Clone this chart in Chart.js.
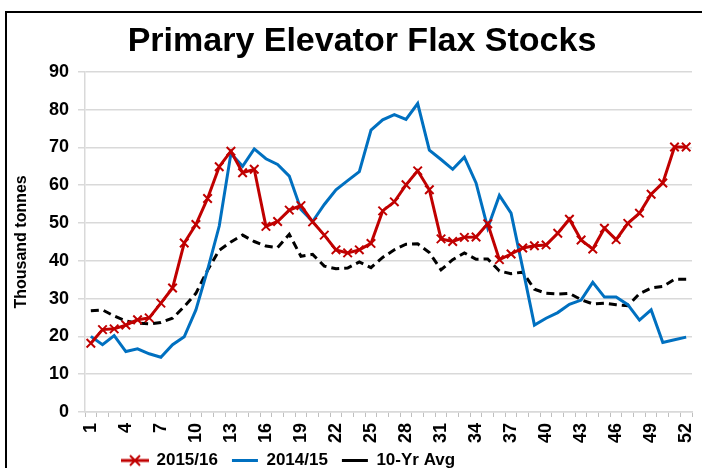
<!DOCTYPE html>
<html>
<head>
<meta charset="utf-8">
<title>Primary Elevator Flax Stocks</title>
<script src="https://cdn.jsdelivr.net/npm/chart.js@4.4.1/dist/chart.umd.min.js"></script>
<style>
    html, body { margin: 0; padding: 0; background: #fff; overflow: hidden; }
    #wrap { position: relative; width: 702px; height: 468px; overflow: hidden; }
    #frame { position: absolute; left: 5px; top: 11px; width: 720px; height: 520px; border: 2px solid #000; }
    #chart { position: absolute; left: 0; top: 0; }
</style>
</head>
<body>
<div id="wrap">
    <div id="frame"></div>
    <canvas id="chart" width="702" height="501"></canvas>
</div>
<script>
// -------------------------------------------------------------------------- Data

const weeks = [
    '1', '2', '3', '4', '5', '6', '7', '8', '9', '10', '11', '12', '13',
    '14', '15', '16', '17', '18', '19', '20', '21', '22', '23', '24', '25', '26',
    '27', '28', '29', '30', '31', '32', '33', '34', '35', '36', '37', '38', '39',
    '40', '41', '42', '43', '44', '45', '46', '47', '48', '49', '50', '51', '52'
]

const stocks2015 = [
    18.2, 21.8, 22.0, 23.0, 24.4, 24.9, 28.8, 32.8, 44.7, 49.6, 56.5, 64.9, 69.0,
    63.3, 64.2, 49.1, 50.4, 53.4, 54.6, 50.3, 46.8, 42.9, 42.1, 42.9, 44.6, 53.2,
    55.6, 60.1, 63.8, 58.8, 45.8, 45.1, 46.2, 46.3, 49.8, 40.3, 41.8, 43.4, 44.0,
    44.2, 47.3, 51.0, 45.5, 43.1, 48.6, 45.6, 49.9, 52.6, 57.6, 60.6, 70.1, 70.1
]

const stocks2014 = [
    20.0, 17.8, 20.2, 16.0, 16.7, 15.4, 14.5, 17.8, 19.9, 27.0, 37.6, 49.2, 68.4,
    65.0, 69.6, 67.0, 65.5, 62.4, 53.6, 50.4, 54.9, 58.8, 61.2, 63.6, 74.6, 77.3,
    78.7, 77.4, 81.6, 69.3, 66.8, 64.2, 67.4, 60.6, 48.7, 57.3, 52.6, 38.0, 23.0,
    24.8, 26.3, 28.5, 29.6, 34.3, 30.4, 30.4, 28.4, 24.3, 27.0, 18.4, 19.1, 19.8
]

const tenYrAvg = [
    26.8, 27.0, 25.4, 24.1, 23.5, 23.3, 23.7, 24.8, 27.9, 31.4, 37.5, 42.8, 45.0,
    46.8, 45.1, 43.9, 43.5, 47.0, 41.2, 41.7, 38.6, 37.9, 38.1, 39.7, 38.2, 40.9,
    42.9, 44.4, 44.5, 42.2, 37.6, 40.3, 42.1, 40.4, 40.5, 37.3, 36.6, 37.0, 32.5,
    31.4, 31.2, 31.4, 29.7, 28.6, 28.8, 28.4, 28.1, 31.3, 32.8, 33.2, 35.1, 35.1
]

const seriesNames = ['2015/16', '2014/15', '10-Yr Avg']

// -------------------------------------------------------------------------- Colours

let red = '#C00000'
let blue = '#0070C0'
let black = '#000000'
let grid = '#d9d9d9'

Chart.defaults.font.family = "'Liberation Sans', Arial, sans-serif"
Chart.defaults.color = '#000'

// legend icon for the red series: line with an x on it
function makeRedIcon() {
    const c = document.createElement('canvas')
    c.width = 28
    c.height = 14
    const g = c.getContext('2d')
    g.strokeStyle = red
    g.lineWidth = 3
    g.beginPath()
    g.moveTo(0, 7)
    g.lineTo(28, 7)
    g.stroke()
    g.lineWidth = 2
    g.beginPath()
    g.moveTo(9, 2)
    g.lineTo(19, 12)
    g.moveTo(19, 2)
    g.lineTo(9, 12)
    g.stroke()
    return c
}
const redIcon = makeRedIcon()

// move title and legend to where the original has them
const boxShift = {
    id: 'boxShift',
    beforeDraw(chart) {
        chart.titleBlock.left = 22
        chart.titleBlock.right = 702
        chart.legend.left = 108
        chart.legend.top = 438
    }
}

// -------------------------------------------------------------------------- Chart Config

const dataFlax = {
    labels: weeks,
    datasets: [{
        label: seriesNames[0],
        data: stocks2015,
        borderColor: red,
        backgroundColor: red,
        borderWidth: 3,
        pointStyle: 'crossRot',
        pointRadius: 6,
        pointBorderWidth: 2,
        pointBorderColor: red,
        tension: 0
    }, {
        label: seriesNames[1],
        data: stocks2014,
        borderColor: blue,
        backgroundColor: blue,
        borderWidth: 3,
        pointRadius: 0,
        tension: 0
    }, {
        label: seriesNames[2],
        data: tenYrAvg,
        borderColor: black,
        backgroundColor: black,
        borderWidth: 3,
        borderDash: [8, 5],
        pointRadius: 0,
        tension: 0
    }]
}

const configFlax = {
    type: 'line',
    data: dataFlax,
    options: {
        responsive: false,
        animation: false,
        events: [],
        layout: {
            padding: { left: 0, right: 10, top: 0, bottom: 0 }
        },
        plugins: {
            title: {
                display: true,
                text: 'Primary Elevator Flax Stocks',
                color: '#000',
                font: { size: 34, weight: 'bold' },
                padding: { top: 21, bottom: 10 }
            },
            legend: {
                position: 'bottom',
                align: 'start',
                labels: {
                    usePointStyle: true,
                    pointStyleWidth: 26,
                    padding: 14,
                    color: '#000',
                    font: { size: 17, weight: 'bold' },
                    generateLabels(chart) {
                        const items = Chart.defaults.plugins.legend.labels.generateLabels(chart)
                        items.forEach((it, i) => {
                            it.pointStyle = i === 0 ? redIcon : 'line'
                        })
                        return items
                    }
                }
            },
            tooltip: { enabled: false }
        },
        scales: {
            x: {
                offset: true,
                ticks: {
                    autoSkip: false,
                    maxRotation: 90,
                    minRotation: 90,
                    padding: 6,
                    color: '#000',
                    font: { size: 18, weight: 'bold' },
                    callback(value, index) {
                        return index % 3 === 0 ? this.getLabelForValue(value) : ''
                    }
                },
                grid: {
                    offset: true,
                    drawOnChartArea: false,
                    tickLength: 5,
                    color: '#bfbfbf',
                    lineWidth: 1
                },
                border: { color: grid, width: 1.5 },
                afterFit(scale) {
                    scale.height = 48
                    scale.paddingLeft = 0
                    scale.paddingRight = 0
                }
            },
            y: {
                min: 0,
                max: 90,
                ticks: {
                    stepSize: 10,
                    padding: 9,
                    color: '#000',
                    font: { size: 18, weight: 'bold' }
                },
                grid: {
                    color: grid,
                    lineWidth: 1.5,
                    tickLength: 7
                },
                border: { color: grid, width: 1.5 },
                title: {
                    display: true,
                    text: 'Thousand tonnes',
                    color: '#000',
                    font: { size: 16, weight: 'bold' },
                    padding: { top: 12, bottom: 0 }
                },
                afterFit(scale) {
                    scale.width = 85
                }
            }
        }
    },
    plugins: [boxShift]
}

// -------------------------------------------------------------------------- Render Chart
let flaxChart = new Chart(
    document.getElementById('chart'),
    configFlax
)
</script>
</body>
</html>
